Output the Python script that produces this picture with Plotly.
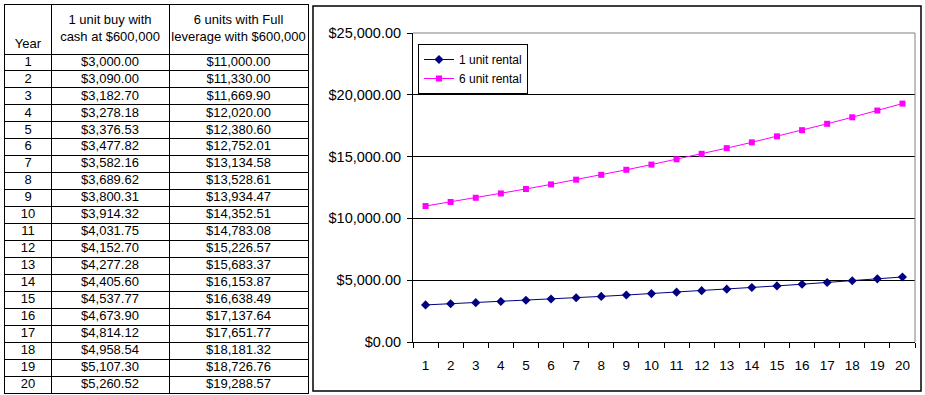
import plotly.graph_objects as go

years = list(range(1, 21))
one_unit = [3000.00, 3090.00, 3182.70, 3278.18, 3376.53, 3477.82, 3582.16, 3689.62, 3800.31, 3914.32,
            4031.75, 4152.70, 4277.28, 4405.60, 4537.77, 4673.90, 4814.12, 4958.54, 5107.30, 5260.52]
six_units = [11000.00, 11330.00, 11669.90, 12020.00, 12380.60, 12752.01, 13134.58, 13528.61, 13934.47, 14352.51,
             14783.08, 15226.57, 15683.37, 16153.87, 16638.49, 17137.64, 17651.77, 18181.32, 18726.76, 19288.57]
table_headers = ["Year", "1 unit buy with<br>cash at $600,000", "6 units with Full<br>leverage with $600,000"]
series_names = ["1 unit rental", "6 unit rental"]
y_ticks = [0, 5000, 10000, 15000, 20000, 25000]

W, H = 925, 395
FONT = "Liberation Sans, Arial, sans-serif"

def money(v):
    return "${:,.2f}".format(v)

# ---- table drawn on its own axes (x in px-like units, y in row units) ----
col_widths = [46, 118, 139]
col_edges = [0]
for w in col_widths:
    col_edges.append(col_edges[-1] + w)
col_centers = [(col_edges[i] + col_edges[i + 1]) / 2 for i in range(3)]
ROW_PX = 16.95
HEADER_ROWS = 49 / ROW_PX
table_top = 0.5 - HEADER_ROWS
n = len(years)

fig = go.Figure()

cell_x, cell_y, cell_t = [], [], []
for ci, col in enumerate([[str(y) for y in years], [money(v) for v in one_unit], [money(v) for v in six_units]]):
    for ri, txt in enumerate(col):
        cell_x.append(col_centers[ci])
        cell_y.append(years[ri])
        cell_t.append(txt)
fig.add_trace(go.Scatter(x=cell_x, y=cell_y, text=cell_t, mode="text", textposition="middle center",
                         textfont=dict(family=FONT, size=13, color="black"),
                         xaxis="x2", yaxis="y2", showlegend=False, hoverinfo="skip"))
# header: "Year" sits at the bottom, the two-line headers are vertically centred
fig.add_trace(go.Scatter(x=col_centers, y=[-0.02, -0.98, -0.98], text=table_headers, mode="text",
                         textposition="middle center",
                         textfont=dict(family=FONT, size=13, color="black"),
                         xaxis="x2", yaxis="y2", showlegend=False, hoverinfo="skip"))

# ---- chart ----
xcat = [str(y) for y in years]
fig.add_trace(go.Scatter(x=xcat, y=one_unit, name=series_names[0], mode="lines+markers",
                         line=dict(color="#000080", width=1),
                         marker=dict(symbol="diamond", size=7, color="#000080")))
fig.add_trace(go.Scatter(x=xcat, y=six_units, name=series_names[1], mode="lines+markers",
                         line=dict(color="#FF00FF", width=1),
                         marker=dict(symbol="square", size=6, color="#FF00FF")))

x0, x1 = 413 / W, 915 / W
y0, y1 = 1 - 342 / H, 1 - 33 / H

fig.update_layout(
    template="none",
    width=W, height=H, margin=dict(l=0, r=0, t=0, b=0, pad=0),
    paper_bgcolor="white", plot_bgcolor="white",
    font=dict(family=FONT, size=13, color="black"),
    xaxis=dict(domain=[x0, x1], type="category", tickson="boundaries", ticks="outside", ticklen=5,
               tickcolor="black", showline=True, linecolor="black", linewidth=1, showgrid=False,
               tickfont=dict(size=13.5), ticklabelstandoff=11, range=[-0.5, 19.5], fixedrange=True,
               automargin=False, zeroline=False),
    yaxis=dict(domain=[y0, y1], range=[0, 25000], tickvals=y_ticks,
               ticktext=[money(v) for v in y_ticks], ticks="outside", ticklen=5, tickcolor="black",
               showline=True, linecolor="black", linewidth=1, showgrid=True, gridcolor="black",
               gridwidth=1, zeroline=False, tickfont=dict(size=14.5), ticklabelstandoff=3,
               automargin=False, fixedrange=True),
    xaxis2=dict(domain=[5 / W, 308 / W], anchor="y2", range=[0, col_edges[-1]],
                tickvals=col_edges[1:-1], showgrid=True, gridcolor="black", gridwidth=1,
                showticklabels=False, ticks="", showline=True, mirror=True, linecolor="black",
                linewidth=1, zeroline=False, automargin=False, fixedrange=True),
    yaxis2=dict(domain=[1 - 393 / H, 1 - 5 / H], anchor="x2", range=[n + 0.5, table_top],
                tickvals=[i + 0.5 for i in range(0, n)], showgrid=True, gridcolor="black", gridwidth=1,
                showticklabels=False, ticks="", showline=True, mirror=True, linecolor="black",
                linewidth=1, zeroline=False, automargin=False, fixedrange=True),
    legend=dict(x=418 / W, y=1 - 44 / H, xanchor="left", yanchor="top", bordercolor="black",
                borderwidth=1, bgcolor="white", font=dict(size=12), tracegroupgap=0,
                itemwidth=30),
    showlegend=True,
)

# chart outer frame and gray plot-area border (top/right)
fig.add_shape(type="rect", xref="paper", yref="paper", x0=313 / W, x1=921 / W, y0=1 - 391 / H, y1=1 - 6 / H,
              line=dict(color="black", width=1.5))
fig.add_shape(type="line", xref="paper", yref="paper", x0=x0, x1=x1, y0=y1, y1=y1,
              line=dict(color="gray", width=1))
fig.add_shape(type="line", xref="paper", yref="paper", x0=x1, x1=x1, y0=y0, y1=y1,
              line=dict(color="gray", width=1))

fig.write_html("out.html", config=dict(displayModeBar=False))
